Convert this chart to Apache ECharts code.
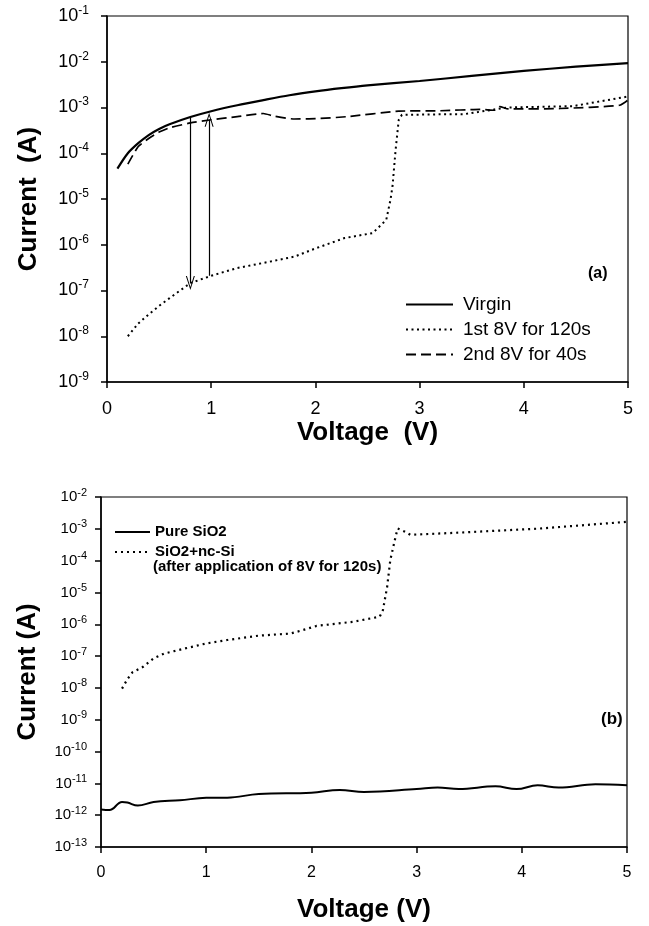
<!DOCTYPE html>
<html>
<head>
<meta charset="utf-8">
<script src="https://cdn.jsdelivr.net/npm/echarts@6/dist/echarts.min.js"></script>
<style>
  html, body { margin: 0; padding: 0; background: #fff; }
  #chart { width: 649px; height: 926px; }
</style>
</head>
<body>
<div id="chart"></div>
<script>
// panel (a)
var virginV = [0.1, 0.2, 0.3, 0.4, 0.5, 0.6, 0.8, 1.0, 1.25, 1.5, 1.75, 2.0, 2.25, 2.5, 3.0, 3.5, 4.0, 4.5, 5.0];
var virginI = [4.6e-5, 1.0e-4, 1.66e-4, 2.5e-4, 3.4e-4, 4.3e-4, 6.2e-4, 8.3e-4, 1.12e-3, 1.45e-3, 1.85e-3, 2.25e-3, 2.65e-3, 3.05e-3, 3.8e-3, 4.9e-3, 6.3e-3, 7.8e-3, 9.3e-3];

var firstV = [0.2, 0.3, 0.4, 0.5, 0.6, 0.8, 1.0, 1.25, 1.5, 1.8, 2.0, 2.28, 2.55, 2.68, 2.72, 2.74, 2.77, 2.8, 2.83, 3.2, 3.42, 3.84, 4.47, 5.0];
var firstI = [1.0e-8, 1.9e-8, 3.0e-8, 4.6e-8, 6.8e-8, 1.45e-7, 2.1e-7, 3.1e-7, 4.0e-7, 5.5e-7, 8.3e-7, 1.4e-6, 1.8e-6, 3.5e-6, 9.5e-6, 1.9e-5, 1.2e-4, 5.4e-4, 6.9e-4, 7.1e-4, 7.1e-4, 1.0e-3, 1.07e-3, 1.74e-3];

var secondV = [0.2, 0.3, 0.4, 0.5, 0.6, 0.8, 1.0, 1.25, 1.5, 1.6, 1.8, 2.0, 2.3, 2.8, 3.2, 3.58, 3.72, 3.77, 3.85, 4.35, 4.92, 5.0];
var secondI = [5.8e-5, 1.4e-4, 2.1e-4, 2.9e-4, 3.6e-4, 4.6e-4, 5.4e-4, 6.3e-4, 7.4e-4, 6.5e-4, 5.6e-4, 5.7e-4, 6.3e-4, 8.3e-4, 8.5e-4, 9.1e-4, 8.7e-4, 1.05e-3, 9.3e-4, 9.5e-4, 1.12e-3, 1.45e-3];

// arrows: [voltage, from, to]
var arrowDown = [0.8, 6.2e-4, 1.45e-7];
var arrowUp = [0.98, 2.1e-7, 5.4e-4];

// panel (b)
var pureV = [0, 0.08, 0.2, 0.25, 0.35, 0.5, 0.75, 1.0, 1.2, 1.5, 2.0, 2.27, 2.5, 3.0, 3.2, 3.4, 3.75, 3.95, 4.15, 4.35, 4.7, 5.0];
var pureI = [1.51e-12, 1.45e-12, 2.6e-12, 2.5e-12, 2.0e-12, 2.6e-12, 2.95e-12, 3.5e-12, 3.55e-12, 4.6e-12, 5.1e-12, 6.2e-12, 5.4e-12, 6.6e-12, 7.4e-12, 6.6e-12, 8.1e-12, 6.6e-12, 8.7e-12, 7.4e-12, 9.3e-12, 8.7e-12];

var ncV = [0.2, 0.25, 0.3, 0.4, 0.5, 0.6, 0.8, 1.0, 1.2, 1.5, 1.8, 1.9, 2.05, 2.4, 2.65, 2.68, 2.72, 2.75, 2.8, 2.82, 2.89, 2.94, 3.41, 4.17, 5.0];
var ncI = [9.5e-9, 1.86e-8, 3.1e-8, 4.6e-8, 8.5e-8, 1.2e-7, 1.74e-7, 2.5e-7, 3.2e-7, 4.4e-7, 5.1e-7, 6.3e-7, 8.9e-7, 1.2e-6, 1.74e-6, 2.8e-6, 1.5e-5, 1.05e-4, 5.6e-4, 1.02e-3, 8.1e-4, 6.5e-4, 7.6e-4, 1.02e-3, 1.66e-3];

var xTicks = [0, 1, 2, 3, 4, 5];

function pairs(xs, ys) {
    return xs.map(function (x, i) { return [x, ys[i]]; });
}

var FONT = '"Liberation Sans", Arial, sans-serif';
var arrowHead = 'path://M5,0 L10,12 L8.8,12 L5,2.6 L1.2,12 L0,12 Z';

function powLabel(v) {
    var e = Math.round(Math.log10(v));
    return '{b|10}{e|' + e + '}';
}

function xAxisFor(idx, fs, margin, gap, name) {
    return {
        type: 'value', gridIndex: idx, min: 0, max: 5, interval: 1,
        name: name, nameLocation: 'middle', nameGap: gap,
        nameTextStyle: { fontFamily: FONT, fontSize: 26, fontWeight: 'bold', color: '#000' },
        axisLine: { lineStyle: { color: '#000', width: 1.5 } },
        axisTick: { length: 6, lineStyle: { color: '#000', width: 1.5 } },
        axisLabel: { fontFamily: FONT, fontSize: fs, color: '#000', margin: margin,
            formatter: function (v) { return xTicks.indexOf(v) >= 0 ? String(v) : ''; } },
        splitLine: { show: false }
    };
}

function yAxisFor(idx, lo, hi, split, bfs, efs, margin, gap, name) {
    return {
        type: 'log', logBase: 10, gridIndex: idx, min: lo, max: hi, splitNumber: split, interval: 1,
        name: name, nameLocation: 'middle', nameGap: gap,
        nameTextStyle: { fontFamily: FONT, fontSize: 26, fontWeight: 'bold', color: '#000' },
        axisLine: { show: true, lineStyle: { color: '#000', width: 1.5 } },
        axisTick: { show: true, length: 6, lineStyle: { color: '#000', width: 1.5 } },
        minorTick: { show: false },
        axisLabel: {
            margin: margin, formatter: powLabel, interval: 0,
            rich: {
                b: { fontFamily: FONT, fontSize: bfs, color: '#000' },
                e: { fontFamily: FONT, fontSize: efs, color: '#000', padding: [0, 0, bfs * 0.6, 0] }
            }
        },
        splitLine: { show: false }
    };
}

var chart = echarts.init(document.getElementById('chart'));

var option = {
    animation: false,
    backgroundColor: '#fff',
    grid: [
        { left: 107, top: 16, width: 521, height: 366, show: true, borderColor: '#000', borderWidth: 1.2 },
        { left: 101, top: 497, width: 526, height: 350, show: true, borderColor: '#000', borderWidth: 1.2 }
    ],
    xAxis: [
        xAxisFor(0, 18, 18, 38, 'Voltage  (V)'),
        xAxisFor(1, 16, 18, 50, 'Voltage (V)')
    ],
    yAxis: [
        yAxisFor(0, 1e-9, 1e-1, 8, 18, 12, 18, 65, 'Current  (A)'),
        yAxisFor(1, 1e-13, 1e-2, 11, 15, 11, 14, 60, 'Current (A)')
    ],
    legend: [
        {
            orient: 'vertical', left: 400, top: 289, itemWidth: 47, itemHeight: 14, itemGap: 4,
            itemStyle: { opacity: 0 },
            data: ['Virgin', '1st 8V for 120s', '2nd 8V for 40s'],
            textStyle: { fontFamily: FONT, fontSize: 19, color: '#000', lineHeight: 21, padding: [0, 0, 0, 5] }
        },
        {
            orient: 'vertical', left: 109, top: 518, itemWidth: 35, itemHeight: 12, itemGap: 2,
            itemStyle: { opacity: 0 },
            data: ['Pure SiO2', 'SiO2+nc-Si'],
            textStyle: { fontFamily: FONT, fontSize: 15, fontWeight: 'bold', color: '#000', lineHeight: 18, padding: [0, 0, 0, 0] }
        }
    ],
    graphic: [
        { type: 'text', left: 588, top: 266, style: { text: '(a)', font: 'bold 16px ' + FONT, fill: '#000' } },
        { type: 'text', left: 601, top: 711, style: { text: '(b)', font: 'bold 17px ' + FONT, fill: '#000' } },
        { type: 'text', left: 153, top: 559, style: { text: '(after application of 8V for 120s)', font: 'bold 15px ' + FONT, fill: '#000' } }
    ],
    series: [
        {
            name: 'Virgin', type: 'line', xAxisIndex: 0, yAxisIndex: 0, symbol: 'none', smooth: 0.3,
            itemStyle: { color: '#000' },
            lineStyle: { color: '#000', width: 2.2, type: 'solid' },
            data: pairs(virginV, virginI),
            markLine: {
                silent: true, symbol: ['none', arrowHead], symbolSize: [9, 14],
                label: { show: false },
                lineStyle: { color: '#000', width: 1.2, type: 'solid' },
                data: [
                    [{ coord: [arrowDown[0], arrowDown[1]] }, { coord: [arrowDown[0], arrowDown[2]] }],
                    [{ coord: [arrowUp[0], arrowUp[1]] }, { coord: [arrowUp[0], arrowUp[2]] }]
                ]
            }
        },
        {
            name: '1st 8V for 120s', type: 'line', xAxisIndex: 0, yAxisIndex: 0, symbol: 'none',
            itemStyle: { color: '#000' },
            lineStyle: { color: '#000', width: 2, type: [2, 3.5] },
            data: pairs(firstV, firstI)
        },
        {
            name: '2nd 8V for 40s', type: 'line', xAxisIndex: 0, yAxisIndex: 0, symbol: 'none', smooth: 0.2,
            itemStyle: { color: '#000' },
            lineStyle: { color: '#000', width: 1.7, type: [10, 5] },
            data: pairs(secondV, secondI)
        },
        {
            name: 'Pure SiO2', type: 'line', xAxisIndex: 1, yAxisIndex: 1, symbol: 'none', smooth: 0.4,
            itemStyle: { color: '#000' },
            lineStyle: { color: '#000', width: 2, type: 'solid' },
            data: pairs(pureV, pureI)
        },
        {
            name: 'SiO2+nc-Si', type: 'line', xAxisIndex: 1, yAxisIndex: 1, symbol: 'none',
            itemStyle: { color: '#000' },
            lineStyle: { color: '#000', width: 2.2, type: [2, 4] },
            data: pairs(ncV, ncI)
        }
    ]
};

chart.setOption(option);
</script>
</body>
</html>
